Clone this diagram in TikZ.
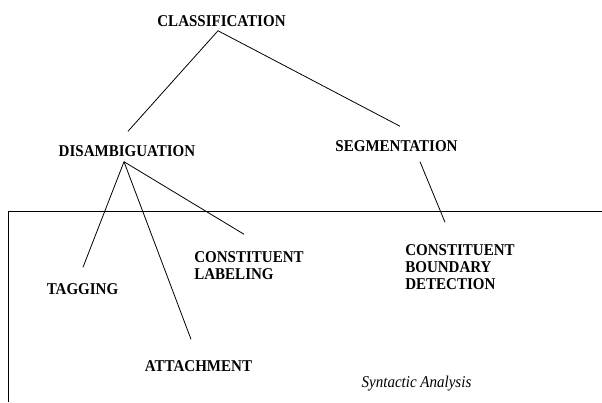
\documentclass[tikz,border=0pt]{standalone}
\usepackage{fontspec}
\setmainfont{Liberation Serif}[FakeStretch=0.91]
\usetikzlibrary{calc}
\tikzset{
  lbl/.style={inner sep=0pt, font=\fontsize{16.5}{17}\selectfont\bfseries},
  note/.style={inner sep=0pt, font=\fontsize{16.5}{17}\selectfont\itshape},
  link/.style={line width=0.8pt},
}
\begin{document}
\begin{tikzpicture}[x=1pt,y=-1pt]
\useasboundingbox (0,0) rectangle (602,402);
\node[lbl] (cls) at (221.5,21) {CLASSIFICATION};
\node[lbl] (dis) at (127,151) {DISAMBIGUATION};
\node[lbl] (seg) at (396.5,146) {SEGMENTATION};
\node[lbl] (tag) at (82.5,289) {TAGGING};
\node[lbl] (att) at (198.5,366) {ATTACHMENT};
\node[lbl, align=left] (lab) at (249,265.5) {CONSTITUENT\\LABELING};
\node[lbl, align=left] (cbd) at (460,267) {CONSTITUENT\\BOUNDARY\\DETECTION};
\node[note] (syn) at (416.5,384) {Syntactic Analysis};
\draw[link] ($(cls.south)+(-3.5,4)$) -- ($(dis.north)+(1,-14)$);
\draw[link] ($(cls.south)+(-3.5,4)$) -- ($(seg.north)+(3.5,-14)$);
\draw[link] ($(dis.south)+(-3,5)$) -- ($(tag.north)+(0.5,-16)$);
\draw[link] ($(dis.south)+(-3,5)$) -- ($(att.north)+(-7.5,-21)$);
\draw[link] ($(dis.south)+(-3,5)$) -- ($(lab.north)+(-5,-17)$);
\draw[link] ($(seg.south)+(23.5,10)$) -- ($(cbd.north)+(-15,-22)$);
\draw[link] (602,211) -- (8,211) -- (8,402);
\end{tikzpicture}
\end{document}
